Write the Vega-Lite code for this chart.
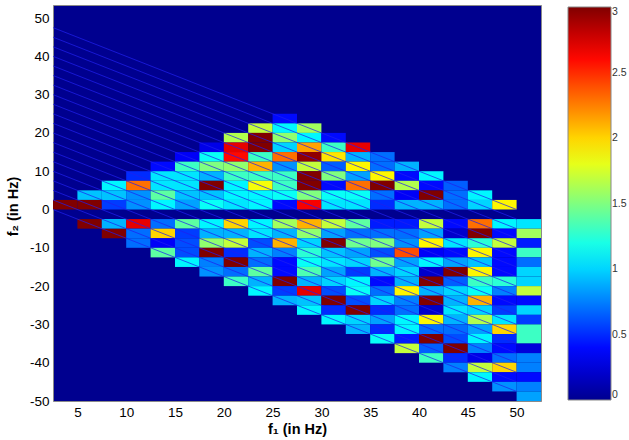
{"$schema":"https://vega.github.io/schema/vega-lite/v6.json","width":488,"height":396,"autosize":"none","padding":{"left":53,"top":5,"right":88,"bottom":39},"background":"white","view":{"fill":"#00008f","stroke":"#8a8a8a","strokeWidth":1},"config":{"font":"Liberation Sans","axis":{"labelOverlap":false}},"layer":[{"data":{"values":[
{"f1":25,"f1_end":27.5,"f2":22.5,"f2_end":25,"power":0.4},
{"f1":22.5,"f1_end":25,"f2":20,"f2_end":22.5,"power":1.7},{"f1":25,"f1_end":27.5,"f2":20,"f2_end":22.5,"power":1.1},{"f1":27.5,"f1_end":30,"f2":20,"f2_end":22.5,"power":1.6},
{"f1":20,"f1_end":22.5,"f2":17.5,"f2_end":20,"power":1.65},{"f1":22.5,"f1_end":25,"f2":17.5,"f2_end":20,"power":3},{"f1":25,"f1_end":27.5,"f2":17.5,"f2_end":20,"power":1.55},{"f1":27.5,"f1_end":30,"f2":17.5,"f2_end":20,"power":1.1},{"f1":30,"f1_end":32.5,"f2":17.5,"f2_end":20,"power":0.4},
{"f1":17.5,"f1_end":20,"f2":15,"f2_end":17.5,"power":0.3},{"f1":20,"f1_end":22.5,"f2":15,"f2_end":17.5,"power":2.7},{"f1":22.5,"f1_end":25,"f2":15,"f2_end":17.5,"power":3},{"f1":25,"f1_end":27.5,"f2":15,"f2_end":17.5,"power":1},{"f1":27.5,"f1_end":30,"f2":15,"f2_end":17.5,"power":2.15},{"f1":30,"f1_end":32.5,"f2":15,"f2_end":17.5,"power":1.3},{"f1":32.5,"f1_end":35,"f2":15,"f2_end":17.5,"power":2.7},
{"f1":15,"f1_end":17.5,"f2":12.5,"f2_end":15,"power":0.35},{"f1":17.5,"f1_end":20,"f2":12.5,"f2_end":15,"power":1.15},{"f1":20,"f1_end":22.5,"f2":12.5,"f2_end":15,"power":2.6},{"f1":22.5,"f1_end":25,"f2":12.5,"f2_end":15,"power":1.3},{"f1":25,"f1_end":27.5,"f2":12.5,"f2_end":15,"power":2.3},{"f1":27.5,"f1_end":30,"f2":12.5,"f2_end":15,"power":2.95},{"f1":30,"f1_end":32.5,"f2":12.5,"f2_end":15,"power":1.95},{"f1":32.5,"f1_end":35,"f2":12.5,"f2_end":15,"power":0.9},{"f1":35,"f1_end":37.5,"f2":12.5,"f2_end":15,"power":0.7},
{"f1":12.5,"f1_end":15,"f2":10,"f2_end":12.5,"power":0.4},{"f1":15,"f1_end":17.5,"f2":10,"f2_end":12.5,"power":1.3},{"f1":17.5,"f1_end":20,"f2":10,"f2_end":12.5,"power":1.5},{"f1":20,"f1_end":22.5,"f2":10,"f2_end":12.5,"power":1.55},{"f1":22.5,"f1_end":25,"f2":10,"f2_end":12.5,"power":2.1},{"f1":25,"f1_end":27.5,"f2":10,"f2_end":12.5,"power":0.8},{"f1":27.5,"f1_end":30,"f2":10,"f2_end":12.5,"power":1.7},{"f1":30,"f1_end":32.5,"f2":10,"f2_end":12.5,"power":0.65},{"f1":32.5,"f1_end":35,"f2":10,"f2_end":12.5,"power":1.9},{"f1":35,"f1_end":37.5,"f2":10,"f2_end":12.5,"power":0.7},{"f1":37.5,"f1_end":40,"f2":10,"f2_end":12.5,"power":0.9},
{"f1":10,"f1_end":12.5,"f2":7.5,"f2_end":10,"power":0.5},{"f1":12.5,"f1_end":15,"f2":7.5,"f2_end":10,"power":1.05},{"f1":15,"f1_end":17.5,"f2":7.5,"f2_end":10,"power":1.05},{"f1":17.5,"f1_end":20,"f2":7.5,"f2_end":10,"power":0.9},{"f1":20,"f1_end":22.5,"f2":7.5,"f2_end":10,"power":1.3},{"f1":22.5,"f1_end":25,"f2":7.5,"f2_end":10,"power":1.3},{"f1":25,"f1_end":27.5,"f2":7.5,"f2_end":10,"power":1.3},{"f1":27.5,"f1_end":30,"f2":7.5,"f2_end":10,"power":3},{"f1":30,"f1_end":32.5,"f2":7.5,"f2_end":10,"power":1.5},{"f1":32.5,"f1_end":35,"f2":7.5,"f2_end":10,"power":0.85},{"f1":35,"f1_end":37.5,"f2":7.5,"f2_end":10,"power":1.9},{"f1":37.5,"f1_end":40,"f2":7.5,"f2_end":10,"power":0.4},{"f1":40,"f1_end":42.5,"f2":7.5,"f2_end":10,"power":1.1},
{"f1":7.5,"f1_end":10,"f2":5,"f2_end":7.5,"power":1.1},{"f1":10,"f1_end":12.5,"f2":5,"f2_end":7.5,"power":2.3},{"f1":12.5,"f1_end":15,"f2":5,"f2_end":7.5,"power":1.05},{"f1":15,"f1_end":17.5,"f2":5,"f2_end":7.5,"power":1.05},{"f1":17.5,"f1_end":20,"f2":5,"f2_end":7.5,"power":3},{"f1":20,"f1_end":22.5,"f2":5,"f2_end":7.5,"power":1.1},{"f1":22.5,"f1_end":25,"f2":5,"f2_end":7.5,"power":1.85},{"f1":25,"f1_end":27.5,"f2":5,"f2_end":7.5,"power":1.3},{"f1":27.5,"f1_end":30,"f2":5,"f2_end":7.5,"power":3},{"f1":30,"f1_end":32.5,"f2":5,"f2_end":7.5,"power":0.4},{"f1":32.5,"f1_end":35,"f2":5,"f2_end":7.5,"power":2.3},{"f1":35,"f1_end":37.5,"f2":5,"f2_end":7.5,"power":3},{"f1":37.5,"f1_end":40,"f2":5,"f2_end":7.5,"power":1.65},{"f1":40,"f1_end":42.5,"f2":5,"f2_end":7.5,"power":0.4},{"f1":42.5,"f1_end":45,"f2":5,"f2_end":7.5,"power":0.65},
{"f1":5,"f1_end":7.5,"f2":2.5,"f2_end":5,"power":0.95},{"f1":7.5,"f1_end":10,"f2":2.5,"f2_end":5,"power":0.95},{"f1":10,"f1_end":12.5,"f2":2.5,"f2_end":5,"power":0.8},{"f1":12.5,"f1_end":15,"f2":2.5,"f2_end":5,"power":1.4},{"f1":15,"f1_end":17.5,"f2":2.5,"f2_end":5,"power":0.95},{"f1":17.5,"f1_end":20,"f2":2.5,"f2_end":5,"power":0.95},{"f1":20,"f1_end":22.5,"f2":2.5,"f2_end":5,"power":1.1},{"f1":22.5,"f1_end":25,"f2":2.5,"f2_end":5,"power":1.1},{"f1":25,"f1_end":27.5,"f2":2.5,"f2_end":5,"power":1.15},{"f1":27.5,"f1_end":30,"f2":2.5,"f2_end":5,"power":1.5},{"f1":30,"f1_end":32.5,"f2":2.5,"f2_end":5,"power":1.15},{"f1":32.5,"f1_end":35,"f2":2.5,"f2_end":5,"power":1.15},{"f1":35,"f1_end":37.5,"f2":2.5,"f2_end":5,"power":0.7},{"f1":37.5,"f1_end":40,"f2":2.5,"f2_end":5,"power":0.35},{"f1":40,"f1_end":42.5,"f2":2.5,"f2_end":5,"power":3},{"f1":42.5,"f1_end":45,"f2":2.5,"f2_end":5,"power":0.7},{"f1":45,"f1_end":47.5,"f2":2.5,"f2_end":5,"power":1.1},
{"f1":2.5,"f1_end":5,"f2":0,"f2_end":2.5,"power":3},{"f1":5,"f1_end":7.5,"f2":0,"f2_end":2.5,"power":3},{"f1":7.5,"f1_end":10,"f2":0,"f2_end":2.5,"power":0.55},{"f1":10,"f1_end":12.5,"f2":0,"f2_end":2.5,"power":0.8},{"f1":12.5,"f1_end":15,"f2":0,"f2_end":2.5,"power":1.1},{"f1":15,"f1_end":17.5,"f2":0,"f2_end":2.5,"power":0.85},{"f1":17.5,"f1_end":20,"f2":0,"f2_end":2.5,"power":1.15},{"f1":20,"f1_end":22.5,"f2":0,"f2_end":2.5,"power":1.05},{"f1":22.5,"f1_end":25,"f2":0,"f2_end":2.5,"power":1.1},{"f1":25,"f1_end":27.5,"f2":0,"f2_end":2.5,"power":0.4},{"f1":27.5,"f1_end":30,"f2":0,"f2_end":2.5,"power":2.65},{"f1":30,"f1_end":32.5,"f2":0,"f2_end":2.5,"power":1.05},{"f1":32.5,"f1_end":35,"f2":0,"f2_end":2.5,"power":1.05},{"f1":35,"f1_end":37.5,"f2":0,"f2_end":2.5,"power":0.5},{"f1":37.5,"f1_end":40,"f2":0,"f2_end":2.5,"power":0.9},{"f1":40,"f1_end":42.5,"f2":0,"f2_end":2.5,"power":0.9},{"f1":42.5,"f1_end":45,"f2":0,"f2_end":2.5,"power":0.7},{"f1":45,"f1_end":47.5,"f2":0,"f2_end":2.5,"power":1},{"f1":47.5,"f1_end":50,"f2":0,"f2_end":2.5,"power":1.9},
{"f1":5,"f1_end":7.5,"f2":-5,"f2_end":-2.5,"power":3},{"f1":7.5,"f1_end":10,"f2":-5,"f2_end":-2.5,"power":0.9},{"f1":10,"f1_end":12.5,"f2":-5,"f2_end":-2.5,"power":2.7},{"f1":12.5,"f1_end":15,"f2":-5,"f2_end":-2.5,"power":0.7},{"f1":15,"f1_end":17.5,"f2":-5,"f2_end":-2.5,"power":1.4},{"f1":17.5,"f1_end":20,"f2":-5,"f2_end":-2.5,"power":1.1},{"f1":20,"f1_end":22.5,"f2":-5,"f2_end":-2.5,"power":2},{"f1":22.5,"f1_end":25,"f2":-5,"f2_end":-2.5,"power":1.1},{"f1":25,"f1_end":27.5,"f2":-5,"f2_end":-2.5,"power":1.6},{"f1":27.5,"f1_end":30,"f2":-5,"f2_end":-2.5,"power":2.1},{"f1":30,"f1_end":32.5,"f2":-5,"f2_end":-2.5,"power":1.7},{"f1":32.5,"f1_end":35,"f2":-5,"f2_end":-2.5,"power":1.4},{"f1":35,"f1_end":37.5,"f2":-5,"f2_end":-2.5,"power":0.45},{"f1":37.5,"f1_end":40,"f2":-5,"f2_end":-2.5,"power":0.45},{"f1":40,"f1_end":42.5,"f2":-5,"f2_end":-2.5,"power":1.7},{"f1":42.5,"f1_end":45,"f2":-5,"f2_end":-2.5,"power":0.4},{"f1":45,"f1_end":47.5,"f2":-5,"f2_end":-2.5,"power":2.3},{"f1":47.5,"f1_end":50,"f2":-5,"f2_end":-2.5,"power":1.1},{"f1":50,"f1_end":52.5,"f2":-5,"f2_end":-2.5,"power":1.05},
{"f1":7.5,"f1_end":10,"f2":-7.5,"f2_end":-5,"power":3},{"f1":10,"f1_end":12.5,"f2":-7.5,"f2_end":-5,"power":0.7},{"f1":12.5,"f1_end":15,"f2":-7.5,"f2_end":-5,"power":2},{"f1":15,"f1_end":17.5,"f2":-7.5,"f2_end":-5,"power":0.55},{"f1":17.5,"f1_end":20,"f2":-7.5,"f2_end":-5,"power":0.9},{"f1":20,"f1_end":22.5,"f2":-7.5,"f2_end":-5,"power":0.9},{"f1":22.5,"f1_end":25,"f2":-7.5,"f2_end":-5,"power":1.05},{"f1":25,"f1_end":27.5,"f2":-7.5,"f2_end":-5,"power":0.9},{"f1":27.5,"f1_end":30,"f2":-7.5,"f2_end":-5,"power":1.55},{"f1":30,"f1_end":32.5,"f2":-7.5,"f2_end":-5,"power":0.85},{"f1":32.5,"f1_end":35,"f2":-7.5,"f2_end":-5,"power":0.7},{"f1":35,"f1_end":37.5,"f2":-7.5,"f2_end":-5,"power":0.7},{"f1":37.5,"f1_end":40,"f2":-7.5,"f2_end":-5,"power":0.7},{"f1":40,"f1_end":42.5,"f2":-7.5,"f2_end":-5,"power":0.85},{"f1":42.5,"f1_end":45,"f2":-7.5,"f2_end":-5,"power":0.2},{"f1":45,"f1_end":47.5,"f2":-7.5,"f2_end":-5,"power":3},{"f1":47.5,"f1_end":50,"f2":-7.5,"f2_end":-5,"power":0.4},{"f1":50,"f1_end":52.5,"f2":-7.5,"f2_end":-5,"power":1.6},
{"f1":10,"f1_end":12.5,"f2":-10,"f2_end":-7.5,"power":0.7},{"f1":12.5,"f1_end":15,"f2":-10,"f2_end":-7.5,"power":0.35},{"f1":15,"f1_end":17.5,"f2":-10,"f2_end":-7.5,"power":0.6},{"f1":17.5,"f1_end":20,"f2":-10,"f2_end":-7.5,"power":1.55},{"f1":20,"f1_end":22.5,"f2":-10,"f2_end":-7.5,"power":1.7},{"f1":22.5,"f1_end":25,"f2":-10,"f2_end":-7.5,"power":0.6},{"f1":25,"f1_end":27.5,"f2":-10,"f2_end":-7.5,"power":2.1},{"f1":27.5,"f1_end":30,"f2":-10,"f2_end":-7.5,"power":1},{"f1":30,"f1_end":32.5,"f2":-10,"f2_end":-7.5,"power":3},{"f1":32.5,"f1_end":35,"f2":-10,"f2_end":-7.5,"power":1.45},{"f1":35,"f1_end":37.5,"f2":-10,"f2_end":-7.5,"power":1.5},{"f1":37.5,"f1_end":40,"f2":-10,"f2_end":-7.5,"power":0.8},{"f1":40,"f1_end":42.5,"f2":-10,"f2_end":-7.5,"power":1.9},{"f1":42.5,"f1_end":45,"f2":-10,"f2_end":-7.5,"power":1.05},{"f1":45,"f1_end":47.5,"f2":-10,"f2_end":-7.5,"power":1.25},{"f1":47.5,"f1_end":50,"f2":-10,"f2_end":-7.5,"power":1.7},{"f1":50,"f1_end":52.5,"f2":-10,"f2_end":-7.5,"power":0.45},
{"f1":12.5,"f1_end":15,"f2":-12.5,"f2_end":-10,"power":1.4},{"f1":15,"f1_end":17.5,"f2":-12.5,"f2_end":-10,"power":0.6},{"f1":17.5,"f1_end":20,"f2":-12.5,"f2_end":-10,"power":3},{"f1":20,"f1_end":22.5,"f2":-12.5,"f2_end":-10,"power":0.5},{"f1":22.5,"f1_end":25,"f2":-12.5,"f2_end":-10,"power":0.9},{"f1":25,"f1_end":27.5,"f2":-12.5,"f2_end":-10,"power":0.75},{"f1":27.5,"f1_end":30,"f2":-12.5,"f2_end":-10,"power":1.25},{"f1":30,"f1_end":32.5,"f2":-12.5,"f2_end":-10,"power":0.95},{"f1":32.5,"f1_end":35,"f2":-12.5,"f2_end":-10,"power":0.85},{"f1":35,"f1_end":37.5,"f2":-12.5,"f2_end":-10,"power":0.6},{"f1":37.5,"f1_end":40,"f2":-12.5,"f2_end":-10,"power":2.4},{"f1":40,"f1_end":42.5,"f2":-12.5,"f2_end":-10,"power":0.35},{"f1":42.5,"f1_end":45,"f2":-12.5,"f2_end":-10,"power":0.4},{"f1":45,"f1_end":47.5,"f2":-12.5,"f2_end":-10,"power":1.9},{"f1":47.5,"f1_end":50,"f2":-12.5,"f2_end":-10,"power":0.4},{"f1":50,"f1_end":52.5,"f2":-12.5,"f2_end":-10,"power":1.3},
{"f1":15,"f1_end":17.5,"f2":-15,"f2_end":-12.5,"power":1.1},{"f1":17.5,"f1_end":20,"f2":-15,"f2_end":-12.5,"power":0.75},{"f1":20,"f1_end":22.5,"f2":-15,"f2_end":-12.5,"power":3},{"f1":22.5,"f1_end":25,"f2":-15,"f2_end":-12.5,"power":0.7},{"f1":25,"f1_end":27.5,"f2":-15,"f2_end":-12.5,"power":0.4},{"f1":27.5,"f1_end":30,"f2":-15,"f2_end":-12.5,"power":1.15},{"f1":30,"f1_end":32.5,"f2":-15,"f2_end":-12.5,"power":1.05},{"f1":32.5,"f1_end":35,"f2":-15,"f2_end":-12.5,"power":1},{"f1":35,"f1_end":37.5,"f2":-15,"f2_end":-12.5,"power":1.45},{"f1":37.5,"f1_end":40,"f2":-15,"f2_end":-12.5,"power":0.85},{"f1":40,"f1_end":42.5,"f2":-15,"f2_end":-12.5,"power":1.1},{"f1":42.5,"f1_end":45,"f2":-15,"f2_end":-12.5,"power":0.85},{"f1":45,"f1_end":47.5,"f2":-15,"f2_end":-12.5,"power":0.95},{"f1":47.5,"f1_end":50,"f2":-15,"f2_end":-12.5,"power":0.4},{"f1":50,"f1_end":52.5,"f2":-15,"f2_end":-12.5,"power":0.7},
{"f1":17.5,"f1_end":20,"f2":-17.5,"f2_end":-15,"power":0.8},{"f1":20,"f1_end":22.5,"f2":-17.5,"f2_end":-15,"power":0.7},{"f1":22.5,"f1_end":25,"f2":-17.5,"f2_end":-15,"power":1.4},{"f1":25,"f1_end":27.5,"f2":-17.5,"f2_end":-15,"power":0.4},{"f1":27.5,"f1_end":30,"f2":-17.5,"f2_end":-15,"power":1.35},{"f1":30,"f1_end":32.5,"f2":-17.5,"f2_end":-15,"power":0.85},{"f1":32.5,"f1_end":35,"f2":-17.5,"f2_end":-15,"power":0.55},{"f1":35,"f1_end":37.5,"f2":-17.5,"f2_end":-15,"power":0.9},{"f1":37.5,"f1_end":40,"f2":-17.5,"f2_end":-15,"power":1},{"f1":40,"f1_end":42.5,"f2":-17.5,"f2_end":-15,"power":0.2},{"f1":42.5,"f1_end":45,"f2":-17.5,"f2_end":-15,"power":3},{"f1":45,"f1_end":47.5,"f2":-17.5,"f2_end":-15,"power":1.9},{"f1":47.5,"f1_end":50,"f2":-17.5,"f2_end":-15,"power":0.4},{"f1":50,"f1_end":52.5,"f2":-17.5,"f2_end":-15,"power":1},
{"f1":20,"f1_end":22.5,"f2":-20,"f2_end":-17.5,"power":1.3},{"f1":22.5,"f1_end":25,"f2":-20,"f2_end":-17.5,"power":0.9},{"f1":25,"f1_end":27.5,"f2":-20,"f2_end":-17.5,"power":3},{"f1":27.5,"f1_end":30,"f2":-20,"f2_end":-17.5,"power":0.9},{"f1":30,"f1_end":32.5,"f2":-20,"f2_end":-17.5,"power":1},{"f1":32.5,"f1_end":35,"f2":-20,"f2_end":-17.5,"power":1.1},{"f1":35,"f1_end":37.5,"f2":-20,"f2_end":-17.5,"power":0.4},{"f1":37.5,"f1_end":40,"f2":-20,"f2_end":-17.5,"power":0.9},{"f1":40,"f1_end":42.5,"f2":-20,"f2_end":-17.5,"power":3},{"f1":42.5,"f1_end":45,"f2":-20,"f2_end":-17.5,"power":0.65},{"f1":45,"f1_end":47.5,"f2":-20,"f2_end":-17.5,"power":1.3},{"f1":47.5,"f1_end":50,"f2":-20,"f2_end":-17.5,"power":1.25},{"f1":50,"f1_end":52.5,"f2":-20,"f2_end":-17.5,"power":1},
{"f1":22.5,"f1_end":25,"f2":-22.5,"f2_end":-20,"power":1.1},{"f1":25,"f1_end":27.5,"f2":-22.5,"f2_end":-20,"power":0.55},{"f1":27.5,"f1_end":30,"f2":-22.5,"f2_end":-20,"power":2.7},{"f1":30,"f1_end":32.5,"f2":-22.5,"f2_end":-20,"power":0.6},{"f1":32.5,"f1_end":35,"f2":-22.5,"f2_end":-20,"power":1.15},{"f1":35,"f1_end":37.5,"f2":-22.5,"f2_end":-20,"power":0.7},{"f1":37.5,"f1_end":40,"f2":-22.5,"f2_end":-20,"power":1.9},{"f1":40,"f1_end":42.5,"f2":-22.5,"f2_end":-20,"power":0.9},{"f1":42.5,"f1_end":45,"f2":-22.5,"f2_end":-20,"power":1},{"f1":45,"f1_end":47.5,"f2":-22.5,"f2_end":-20,"power":1.15},{"f1":47.5,"f1_end":50,"f2":-22.5,"f2_end":-20,"power":0.75},{"f1":50,"f1_end":52.5,"f2":-22.5,"f2_end":-20,"power":1.7},
{"f1":25,"f1_end":27.5,"f2":-25,"f2_end":-22.5,"power":0.9},{"f1":27.5,"f1_end":30,"f2":-25,"f2_end":-22.5,"power":0.95},{"f1":30,"f1_end":32.5,"f2":-25,"f2_end":-22.5,"power":3},{"f1":32.5,"f1_end":35,"f2":-25,"f2_end":-22.5,"power":0.6},{"f1":35,"f1_end":37.5,"f2":-25,"f2_end":-22.5,"power":1},{"f1":37.5,"f1_end":40,"f2":-25,"f2_end":-22.5,"power":0.75},{"f1":40,"f1_end":42.5,"f2":-25,"f2_end":-22.5,"power":3},{"f1":42.5,"f1_end":45,"f2":-25,"f2_end":-22.5,"power":0.9},{"f1":45,"f1_end":47.5,"f2":-25,"f2_end":-22.5,"power":2.1},{"f1":47.5,"f1_end":50,"f2":-25,"f2_end":-22.5,"power":0.4},{"f1":50,"f1_end":52.5,"f2":-25,"f2_end":-22.5,"power":0.4},
{"f1":27.5,"f1_end":30,"f2":-27.5,"f2_end":-25,"power":1.1},{"f1":30,"f1_end":32.5,"f2":-27.5,"f2_end":-25,"power":0.5},{"f1":32.5,"f1_end":35,"f2":-27.5,"f2_end":-25,"power":3},{"f1":35,"f1_end":37.5,"f2":-27.5,"f2_end":-25,"power":0.5},{"f1":37.5,"f1_end":40,"f2":-27.5,"f2_end":-25,"power":0.7},{"f1":40,"f1_end":42.5,"f2":-27.5,"f2_end":-25,"power":0.2},{"f1":42.5,"f1_end":45,"f2":-27.5,"f2_end":-25,"power":1.05},{"f1":45,"f1_end":47.5,"f2":-27.5,"f2_end":-25,"power":1},{"f1":47.5,"f1_end":50,"f2":-27.5,"f2_end":-25,"power":0.55},{"f1":50,"f1_end":52.5,"f2":-27.5,"f2_end":-25,"power":1},
{"f1":30,"f1_end":32.5,"f2":-30,"f2_end":-27.5,"power":1.1},{"f1":32.5,"f1_end":35,"f2":-30,"f2_end":-27.5,"power":1},{"f1":35,"f1_end":37.5,"f2":-30,"f2_end":-27.5,"power":0.85},{"f1":37.5,"f1_end":40,"f2":-30,"f2_end":-27.5,"power":1.1},{"f1":40,"f1_end":42.5,"f2":-30,"f2_end":-27.5,"power":1.9},{"f1":42.5,"f1_end":45,"f2":-30,"f2_end":-27.5,"power":0.9},{"f1":45,"f1_end":47.5,"f2":-30,"f2_end":-27.5,"power":1.65},{"f1":47.5,"f1_end":50,"f2":-30,"f2_end":-27.5,"power":1.05},{"f1":50,"f1_end":52.5,"f2":-30,"f2_end":-27.5,"power":0.55},
{"f1":32.5,"f1_end":35,"f2":-32.5,"f2_end":-30,"power":0.9},{"f1":35,"f1_end":37.5,"f2":-32.5,"f2_end":-30,"power":0.5},{"f1":37.5,"f1_end":40,"f2":-32.5,"f2_end":-30,"power":1.1},{"f1":40,"f1_end":42.5,"f2":-32.5,"f2_end":-30,"power":0.7},{"f1":42.5,"f1_end":45,"f2":-32.5,"f2_end":-30,"power":0.7},{"f1":45,"f1_end":47.5,"f2":-32.5,"f2_end":-30,"power":0.85},{"f1":47.5,"f1_end":50,"f2":-32.5,"f2_end":-30,"power":2},{"f1":50,"f1_end":52.5,"f2":-32.5,"f2_end":-30,"power":1.3},
{"f1":35,"f1_end":37.5,"f2":-35,"f2_end":-32.5,"power":1.15},{"f1":37.5,"f1_end":40,"f2":-35,"f2_end":-32.5,"power":0.45},{"f1":40,"f1_end":42.5,"f2":-35,"f2_end":-32.5,"power":3},{"f1":42.5,"f1_end":45,"f2":-35,"f2_end":-32.5,"power":0.6},{"f1":45,"f1_end":47.5,"f2":-35,"f2_end":-32.5,"power":1.1},{"f1":47.5,"f1_end":50,"f2":-35,"f2_end":-32.5,"power":0.5},{"f1":50,"f1_end":52.5,"f2":-35,"f2_end":-32.5,"power":1.3},
{"f1":37.5,"f1_end":40,"f2":-37.5,"f2_end":-35,"power":1.7},{"f1":40,"f1_end":42.5,"f2":-37.5,"f2_end":-35,"power":0.65},{"f1":42.5,"f1_end":45,"f2":-37.5,"f2_end":-35,"power":3},{"f1":45,"f1_end":47.5,"f2":-37.5,"f2_end":-35,"power":0.75},{"f1":47.5,"f1_end":50,"f2":-37.5,"f2_end":-35,"power":0.4},{"f1":50,"f1_end":52.5,"f2":-37.5,"f2_end":-35,"power":0.25},
{"f1":40,"f1_end":42.5,"f2":-40,"f2_end":-37.5,"power":1.3},{"f1":42.5,"f1_end":45,"f2":-40,"f2_end":-37.5,"power":0.5},{"f1":45,"f1_end":47.5,"f2":-40,"f2_end":-37.5,"power":0.3},{"f1":47.5,"f1_end":50,"f2":-40,"f2_end":-37.5,"power":0.7},{"f1":50,"f1_end":52.5,"f2":-40,"f2_end":-37.5,"power":0.75},
{"f1":42.5,"f1_end":45,"f2":-42.5,"f2_end":-40,"power":0.75},{"f1":45,"f1_end":47.5,"f2":-42.5,"f2_end":-40,"power":1.7},{"f1":47.5,"f1_end":50,"f2":-42.5,"f2_end":-40,"power":2},{"f1":50,"f1_end":52.5,"f2":-42.5,"f2_end":-40,"power":0.75},
{"f1":45,"f1_end":47.5,"f2":-45,"f2_end":-42.5,"power":1.1},{"f1":47.5,"f1_end":50,"f2":-45,"f2_end":-42.5,"power":0.4},{"f1":50,"f1_end":52.5,"f2":-45,"f2_end":-42.5,"power":0.4},
{"f1":47.5,"f1_end":50,"f2":-47.5,"f2_end":-45,"power":0.8},{"f1":50,"f1_end":52.5,"f2":-47.5,"f2_end":-45,"power":0.75},
{"f1":50,"f1_end":52.5,"f2":-50,"f2_end":-47.5,"power":0.85}
]},"mark":{"type":"rect","strokeWidth":0},"encoding":{"x":{"field":"f1","type":"quantitative","scale":{"domain":[2.5,52.5],"nice":false,"zero":false},"axis":{"values":[5,10,15,20,25,30,35,40,45,50],"ticks":false,"grid":false,"domain":false,"labelFontSize":13.5,"labelColor":"#000","labelPadding":4,"labelFlush":false,"labelOverlap":false,"title":"f₁ (in Hz)","titleFontSize":14.5,"titleFontWeight":"bold","titleColor":"#000","titlePadding":4,"labelExpr":"''+datum.value"}},"x2":{"field":"f1_end"},"y":{"field":"f2","type":"quantitative","scale":{"domain":[-50,53.4],"nice":false,"zero":false},"axis":{"values":[-50,-40,-30,-20,-10,0,10,20,30,40,50],"ticks":false,"grid":false,"domain":false,"labelFontSize":13.5,"labelColor":"#000","labelPadding":4,"labelOverlap":false,"labelFlush":false,"title":"f₂ (in Hz)","titleFontSize":14.5,"titleFontWeight":"bold","titleColor":"#000","titlePadding":9,"titleY":201,"labelExpr":"''+datum.value"}},"y2":{"field":"f2_end"},"color":{"field":"power","type":"quantitative","scale":{"domain":[0,0.375,1.125,1.875,2.625,3],"range":["#00008f","#0000ff","#00ffff","#ffff00","#ff0000","#800000"],"interpolate":"rgb"},"legend":{"orient":"none","legendX":515,"legendY":2,"title":null,"gradientLength":393,"gradientThickness":43,"gradientStrokeColor":"#888","gradientStrokeWidth":1,"values":[0,0.5,1,1.5,2,2.5,3],"labelFontSize":10.5,"labelColor":"#333","labelOffset":1,"labelOverlap":false,"labelExpr":"''+datum.value"}}}},
{"data":{"values":[
{"f1":2.5,"f1_end":50,"f2":47.5,"f2_end":0},{"f1":2.5,"f1_end":50,"f2":45,"f2_end":-2.5},{"f1":2.5,"f1_end":50,"f2":42.5,"f2_end":-5},{"f1":2.5,"f1_end":50,"f2":40,"f2_end":-7.5},{"f1":2.5,"f1_end":50,"f2":37.5,"f2_end":-10},{"f1":2.5,"f1_end":50,"f2":35,"f2_end":-12.5},{"f1":2.5,"f1_end":50,"f2":32.5,"f2_end":-15},{"f1":2.5,"f1_end":50,"f2":30,"f2_end":-17.5},{"f1":2.5,"f1_end":50,"f2":27.5,"f2_end":-20},{"f1":2.5,"f1_end":50,"f2":25,"f2_end":-22.5},{"f1":2.5,"f1_end":50,"f2":22.5,"f2_end":-25},{"f1":2.5,"f1_end":50,"f2":20,"f2_end":-27.5},{"f1":2.5,"f1_end":50,"f2":17.5,"f2_end":-30},{"f1":2.5,"f1_end":50,"f2":15,"f2_end":-32.5},{"f1":2.5,"f1_end":50,"f2":12.5,"f2_end":-35},{"f1":2.5,"f1_end":50,"f2":10,"f2_end":-37.5},{"f1":2.5,"f1_end":50,"f2":7.5,"f2_end":-40},{"f1":2.5,"f1_end":50,"f2":5,"f2_end":-42.5},{"f1":2.5,"f1_end":50,"f2":2.5,"f2_end":-45},{"f1":2.5,"f1_end":50,"f2":0,"f2_end":-47.5}
]},"mark":{"type":"rule","color":"#2020ee","opacity":0.72,"strokeWidth":1},"encoding":{"x":{"field":"f1","type":"quantitative","axis":{"values":[5,10,15,20,25,30,35,40,45,50],"ticks":false,"grid":false,"domain":false,"labelFontSize":13.5,"labelColor":"#000","labelPadding":4,"labelFlush":false,"labelOverlap":false,"title":"f₁ (in Hz)","titleFontSize":14.5,"titleFontWeight":"bold","titleColor":"#000","titlePadding":4,"labelExpr":"''+datum.value"}},"x2":{"field":"f1_end"},"y":{"field":"f2","type":"quantitative","axis":{"values":[-50,-40,-30,-20,-10,0,10,20,30,40,50],"ticks":false,"grid":false,"domain":false,"labelFontSize":13.5,"labelColor":"#000","labelPadding":4,"labelOverlap":false,"labelFlush":false,"title":"f₂ (in Hz)","titleFontSize":14.5,"titleFontWeight":"bold","titleColor":"#000","titlePadding":9,"titleY":201,"labelExpr":"''+datum.value"}},"y2":{"field":"f2_end"}}}
]}
